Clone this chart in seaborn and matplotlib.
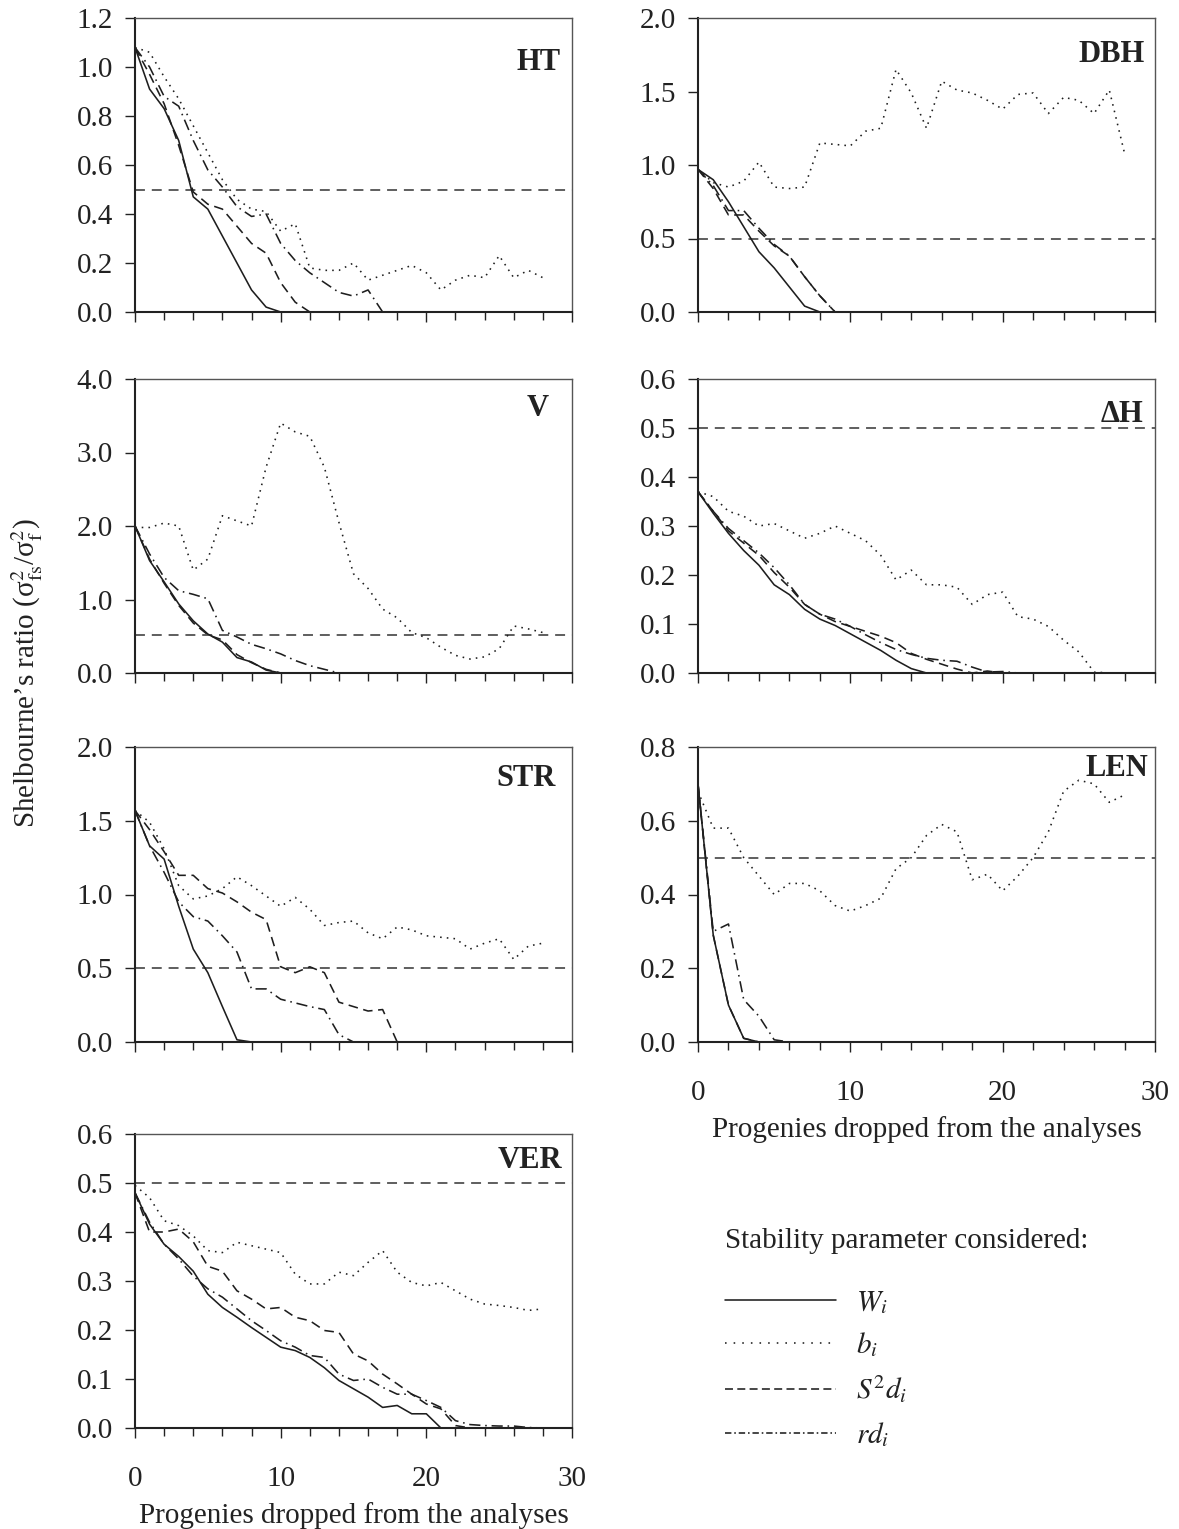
import matplotlib
matplotlib.use("Agg")
import matplotlib.pyplot as plt
import seaborn as sns
import pandas as pd
from matplotlib.lines import Line2D
from matplotlib.ticker import MultipleLocator, FormatStrFormatter

# ---------------- data ----------------
progenies = list(range(29))

traits = ["HT", "DBH", "V", "ΔH", "STR", "LEN", "VER"]
params = ["Wi", "bi", "S2di", "rdi"]
param_labels = [r"$W_i$", r"$b_i$", r"$S^2d_i$", r"$rd_i$"]
y_max = [1.2, 2.0, 4.0, 0.6, 2.0, 0.8, 0.6]
y_step = [0.2, 0.5, 1.0, 0.1, 0.5, 0.2, 0.1]
ref_level = [0.5, 0.5, 0.52, 0.5, 0.5, 0.5, 0.5]

HT_Wi = [1.08, 0.91, 0.83, 0.70, 0.47, 0.42, 0.31, 0.20, 0.09, 0.02, 0.0, 0.0, 0.0, 0.0, 0.0,
         0.0, 0.0, 0.0, 0.0, 0.0, 0.0, 0.0, 0.0, 0.0, 0.0, 0.0, 0.0, 0.0, 0.0]
HT_bi = [1.08, 1.06, 0.96, 0.87, 0.76, 0.65, 0.54, 0.46, 0.42, 0.41, 0.33, 0.36, 0.18, 0.17, 0.17,
         0.20, 0.13, 0.15, 0.17, 0.19, 0.16, 0.09, 0.13, 0.15, 0.14, 0.23, 0.14, 0.17, 0.14]
HT_S2di = [1.08, 0.97, 0.85, 0.68, 0.49, 0.44, 0.42, 0.35, 0.28, 0.24, 0.12, 0.04, 0.0, 0.0, 0.0,
           0.0, 0.0, 0.0, 0.0, 0.0, 0.0, 0.0, 0.0, 0.0, 0.0, 0.0, 0.0, 0.0, 0.0]
HT_rdi = [1.08, 1.00, 0.88, 0.84, 0.70, 0.58, 0.51, 0.43, 0.39, 0.40, 0.28, 0.21, 0.16, 0.12, 0.08,
          0.065, 0.09, 0.0, 0.0, 0.0, 0.0, 0.0, 0.0, 0.0, 0.0, 0.0, 0.0, 0.0, 0.0]

DBH_Wi = [0.97, 0.90, 0.75, 0.58, 0.41, 0.30, 0.17, 0.04, 0.0, 0.0, 0.0, 0.0, 0.0, 0.0, 0.0,
          0.0, 0.0, 0.0, 0.0, 0.0, 0.0, 0.0, 0.0, 0.0, 0.0, 0.0, 0.0, 0.0, 0.0]
DBH_bi = [0.97, 0.88, 0.85, 0.89, 1.02, 0.85, 0.84, 0.85, 1.15, 1.14, 1.13, 1.23, 1.25, 1.65, 1.49,
          1.25, 1.57, 1.51, 1.49, 1.44, 1.38, 1.48, 1.49, 1.35, 1.46, 1.44, 1.35, 1.51, 1.08]
DBH_S2di = [0.97, 0.84, 0.66, 0.66, 0.55, 0.45, 0.38, 0.24, 0.11, 0.0, 0.0, 0.0, 0.0, 0.0, 0.0,
            0.0, 0.0, 0.0, 0.0, 0.0, 0.0, 0.0, 0.0, 0.0, 0.0, 0.0, 0.0, 0.0, 0.0]
DBH_rdi = [0.97, 0.86, 0.69, 0.69, 0.57, 0.46, 0.38, 0.24, 0.11, 0.0, 0.0, 0.0, 0.0, 0.0, 0.0,
           0.0, 0.0, 0.0, 0.0, 0.0, 0.0, 0.0, 0.0, 0.0, 0.0, 0.0, 0.0, 0.0, 0.0]

V_Wi = [2.0, 1.53, 1.24, 0.94, 0.71, 0.53, 0.42, 0.21, 0.15, 0.04, 0.0, 0.0, 0.0, 0.0, 0.0,
        0.0, 0.0, 0.0, 0.0, 0.0, 0.0, 0.0, 0.0, 0.0, 0.0, 0.0, 0.0, 0.0, 0.0]
V_bi = [1.98, 1.98, 2.04, 2.00, 1.40, 1.55, 2.14, 2.07, 2.00, 2.80, 3.40, 3.28, 3.22, 2.80, 2.05,
        1.35, 1.15, 0.87, 0.75, 0.55, 0.48, 0.35, 0.24, 0.19, 0.22, 0.33, 0.64, 0.60, 0.55]
V_S2di = [2.0, 1.55, 1.22, 0.92, 0.68, 0.52, 0.45, 0.25, 0.14, 0.05, 0.0, 0.0, 0.0, 0.0, 0.0,
          0.0, 0.0, 0.0, 0.0, 0.0, 0.0, 0.0, 0.0, 0.0, 0.0, 0.0, 0.0, 0.0, 0.0]
V_rdi = [2.0, 1.62, 1.30, 1.12, 1.07, 1.01, 0.58, 0.49, 0.39, 0.33, 0.26, 0.17, 0.10, 0.05, 0.0,
         0.0, 0.0, 0.0, 0.0, 0.0, 0.0, 0.0, 0.0, 0.0, 0.0, 0.0, 0.0, 0.0, 0.0]

DH_Wi = [0.37, 0.326, 0.285, 0.25, 0.22, 0.18, 0.16, 0.13, 0.11, 0.097, 0.08, 0.063, 0.046, 0.026, 0.009,
         0.0, 0.0, 0.0, 0.0, 0.0, 0.0, 0.0, 0.0, 0.0, 0.0, 0.0, 0.0, 0.0, 0.0]
DH_bi = [0.37, 0.36, 0.33, 0.32, 0.30, 0.305, 0.29, 0.275, 0.285, 0.30, 0.285, 0.27, 0.24, 0.19, 0.21,
         0.18, 0.18, 0.175, 0.14, 0.16, 0.165, 0.115, 0.11, 0.095, 0.067, 0.043, 0.002, 0.0, 0.0]
DH_S2di = [0.37, 0.33, 0.29, 0.265, 0.24, 0.205, 0.175, 0.14, 0.12, 0.105, 0.095, 0.085, 0.075, 0.062, 0.04,
           0.028, 0.018, 0.008, 0.0, 0.004, 0.0, 0.0, 0.0, 0.0, 0.0, 0.0, 0.0, 0.0, 0.0]
DH_rdi = [0.37, 0.33, 0.295, 0.27, 0.245, 0.215, 0.18, 0.14, 0.12, 0.11, 0.095, 0.078, 0.062, 0.048, 0.038,
          0.03, 0.026, 0.024, 0.012, 0.002, 0.003, 0.0, 0.0, 0.0, 0.0, 0.0, 0.0, 0.0, 0.0]

STR_Wi = [1.57, 1.33, 1.24, 0.92, 0.63, 0.47, 0.24, 0.015, 0.0, 0.0, 0.0, 0.0, 0.0, 0.0, 0.0,
          0.0, 0.0, 0.0, 0.0, 0.0, 0.0, 0.0, 0.0, 0.0, 0.0, 0.0, 0.0, 0.0, 0.0]
STR_bi = [1.57, 1.49, 1.31, 1.06, 0.97, 0.99, 1.04, 1.12, 1.06, 0.99, 0.92, 0.98, 0.90, 0.79, 0.81,
          0.82, 0.74, 0.70, 0.78, 0.76, 0.72, 0.71, 0.70, 0.63, 0.67, 0.70, 0.56, 0.65, 0.67]
STR_S2di = [1.57, 1.44, 1.29, 1.13, 1.13, 1.04, 1.01, 0.95, 0.88, 0.83, 0.51, 0.47, 0.51, 0.47, 0.27,
            0.24, 0.21, 0.22, 0.0, 0.0, 0.0, 0.0, 0.0, 0.0, 0.0, 0.0, 0.0, 0.0, 0.0]
STR_rdi = [1.57, 1.33, 1.15, 0.95, 0.85, 0.82, 0.72, 0.61, 0.36, 0.36, 0.29, 0.265, 0.24, 0.22, 0.05,
           0.0, 0.0, 0.0, 0.0, 0.0, 0.0, 0.0, 0.0, 0.0, 0.0, 0.0, 0.0, 0.0, 0.0]

LEN_Wi = [0.70, 0.29, 0.10, 0.01, 0.0, 0.0, 0.0, 0.0, 0.0, 0.0, 0.0, 0.0, 0.0, 0.0, 0.0,
          0.0, 0.0, 0.0, 0.0, 0.0, 0.0, 0.0, 0.0, 0.0, 0.0, 0.0, 0.0, 0.0, 0.0]
LEN_bi = [0.68, 0.58, 0.58, 0.50, 0.45, 0.40, 0.43, 0.43, 0.41, 0.37, 0.355, 0.37, 0.39, 0.47, 0.50,
          0.56, 0.59, 0.57, 0.44, 0.455, 0.41, 0.45, 0.50, 0.57, 0.68, 0.71, 0.70, 0.65, 0.67]
LEN_S2di = [0.70, 0.29, 0.10, 0.01, 0.0, 0.0, 0.0, 0.0, 0.0, 0.0, 0.0, 0.0, 0.0, 0.0, 0.0,
            0.0, 0.0, 0.0, 0.0, 0.0, 0.0, 0.0, 0.0, 0.0, 0.0, 0.0, 0.0, 0.0, 0.0]
LEN_rdi = [0.70, 0.30, 0.32, 0.115, 0.07, 0.006, 0.0, 0.0, 0.0, 0.0, 0.0, 0.0, 0.0, 0.0, 0.0,
           0.0, 0.0, 0.0, 0.0, 0.0, 0.0, 0.0, 0.0, 0.0, 0.0, 0.0, 0.0, 0.0, 0.0]

VER_Wi = [0.48, 0.416, 0.375, 0.35, 0.32, 0.273, 0.246, 0.226, 0.205, 0.185, 0.165, 0.158, 0.144, 0.123, 0.097,
          0.08, 0.063, 0.042, 0.046, 0.029, 0.029, 0.0, 0.0, 0.0, 0.0, 0.0, 0.0, 0.0, 0.0]
VER_bi = [0.495, 0.47, 0.423, 0.413, 0.392, 0.362, 0.358, 0.379, 0.372, 0.365, 0.358, 0.314, 0.294, 0.294, 0.318,
          0.311, 0.338, 0.362, 0.318, 0.297, 0.29, 0.297, 0.28, 0.263, 0.253, 0.25, 0.246, 0.24, 0.243]
VER_S2di = [0.48, 0.40, 0.40, 0.406, 0.38, 0.33, 0.32, 0.28, 0.263, 0.243, 0.246, 0.226, 0.219, 0.199, 0.195,
            0.151, 0.137, 0.11, 0.09, 0.069, 0.049, 0.039, 0.005, 0.0, 0.0, 0.0, 0.0, 0.0, 0.0]
VER_rdi = [0.48, 0.42, 0.375, 0.345, 0.31, 0.284, 0.267, 0.243, 0.219, 0.199, 0.178, 0.165, 0.148, 0.144, 0.11,
           0.097, 0.10, 0.083, 0.069, 0.069, 0.056, 0.042, 0.015, 0.007, 0.005, 0.004, 0.004, 0.001, 0.0]

series = {
    "HT": [HT_Wi, HT_bi, HT_S2di, HT_rdi],
    "DBH": [DBH_Wi, DBH_bi, DBH_S2di, DBH_rdi],
    "V": [V_Wi, V_bi, V_S2di, V_rdi],
    "ΔH": [DH_Wi, DH_bi, DH_S2di, DH_rdi],
    "STR": [STR_Wi, STR_bi, STR_S2di, STR_rdi],
    "LEN": [LEN_Wi, LEN_bi, LEN_S2di, LEN_rdi],
    "VER": [VER_Wi, VER_bi, VER_S2di, VER_rdi],
}

# ---------------- style ----------------
sns.set_theme(style="white")
plt.rcParams["font.family"] = ["Liberation Serif", "DejaVu Serif"]
plt.rcParams["mathtext.fontset"] = "stix"
plt.rcParams["text.color"] = "#222222"
plt.rcParams["axes.labelcolor"] = "#222222"
plt.rcParams["xtick.color"] = "#222222"
plt.rcParams["ytick.color"] = "#222222"

LINE = "#1e1e1e"
LW = 1.15
dash_map = {"Wi": "", "bi": (1, 3.2), "S2di": (6, 3.5), "rdi": (7, 3, 1, 3)}
legend_dash = {"bi": (1, 4.4), "S2di": (5, 2.7), "rdi": (4, 1.8, 1, 1.8)}

W, H = 1179, 1529
fig = plt.figure(figsize=(W / 100, H / 100), dpi=100)


def rect(l, t, r, b):
    return [l / W, 1 - b / H, (r - l) / W, (b - t) / H]


cols = [(135, 572), (698, 1155)]
rows = [(18, 312), (379, 673), (747, 1042), (1134, 1428)]
grid = [(0, 0), (0, 1), (1, 0), (1, 1), (2, 0), (2, 1), (3, 0)]
# label offsets (px from right edge, px from top to label centre)
label_off = [(11, 44), (10, 36), (23, 30), (12, 36), (16, 31), (7, 21), (10, 27)]

for k, trait in enumerate(traits):
    r, c = grid[k]
    ax = fig.add_axes(rect(cols[c][0], rows[r][0], cols[c][1], rows[r][1]))
    recs = []
    for p, vals in zip(params, series[trait]):
        for xv, yv in zip(progenies, vals):
            recs.append({"x": xv, "y": yv, "param": p})
    df = pd.DataFrame(recs)
    sns.lineplot(data=df, x="x", y="y", style="param", style_order=params,
                 dashes=dash_map, color=LINE, linewidth=LW, legend=False,
                 estimator=None, ax=ax)
    ax.axhline(ref_level[k], color="#333333", lw=1.1, ls=(0, (6.5, 4.5)), zorder=1)

    ax.set_xlim(0, 30)
    ax.set_ylim(0, y_max[k])
    ax.yaxis.set_major_locator(MultipleLocator(y_step[k]))
    ax.yaxis.set_major_formatter(FormatStrFormatter("%.1f"))
    ax.xaxis.set_major_locator(MultipleLocator(10))
    ax.xaxis.set_minor_locator(MultipleLocator(2))
    ax.set_xlabel("")
    ax.set_ylabel("")
    ax.tick_params(axis="y", which="major", direction="out", length=7, width=1.0,
                   pad=9, labelsize=21, left=True)
    ax.tick_params(axis="x", which="major", direction="out", length=7.5, width=1.0,
                   bottom=True, labelsize=21)
    ax.tick_params(axis="x", which="minor", direction="out", length=6, width=1.0, bottom=True)
    for s in ["left", "bottom"]:
        ax.spines[s].set_color("#222222")
        ax.spines[s].set_linewidth(1.5)
    for s in ["top", "right"]:
        ax.spines[s].set_color("#555555")
        ax.spines[s].set_linewidth(1.0)

    hpx = rows[r][1] - rows[r][0]
    if trait in ("LEN", "VER"):
        ax.tick_params(axis="x", which="major", pad=20)
        ax.set_xlabel("Progenies dropped from the analyses", fontsize=21)
        ax.xaxis.set_label_coords(0.5, -88 / hpx)
        ax.xaxis.label.set_va("center")
    else:
        ax.tick_params(axis="x", labelbottom=False)

    dx, dy = label_off[k]
    wpx = cols[c][1] - cols[c][0]
    ax.text(1 - dx / wpx, 1 - dy / hpx, trait, transform=ax.transAxes,
            ha="right", va="center", fontsize=22, fontweight="bold", color="#222222")

fig.text(27 / W, 1 - 673 / H,
         "Shelbourne’s ratio (σ$^{2}_{\\mathrm{fs}}$/σ$^{2}_{\\mathrm{f}}$)",
         rotation=90, ha="center", va="center", fontsize=21)

# legend
fig.text(725 / W, 1 - 1248 / H, "Stability parameter considered:",
         ha="left", va="baseline", fontsize=21)
handles = [Line2D([0], [0], color=LINE, lw=LW, ls="-")]
for p in params[1:]:
    handles.append(Line2D([0], [0], color=LINE, lw=LW, dashes=legend_dash[p]))
leg = fig.legend(handles, param_labels, loc="center left",
                 bbox_to_anchor=(725 / W, 1 - 1369 / H), frameon=False,
                 fontsize=21, handlelength=3.8, handletextpad=0.69,
                 labelspacing=0.5, borderpad=0, borderaxespad=0)

fig.savefig("out.png", dpi=100)
